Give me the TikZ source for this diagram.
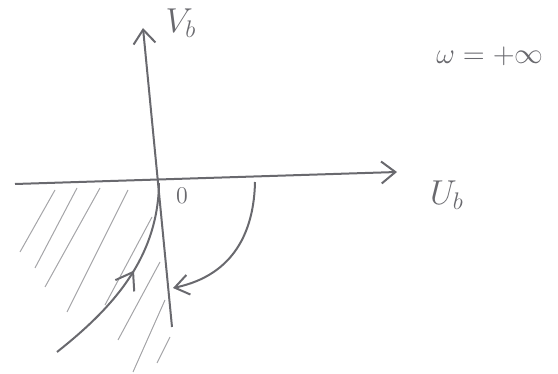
\documentclass[tikz,border=0pt]{standalone}
\usepackage{amsmath}
\definecolor{pencil}{RGB}{105,105,110}
\usetikzlibrary{arrows.meta,decorations.markings}

\begin{document}
\begin{tikzpicture}[x=0.5pt,y=-0.5pt,
  axis/.style={pencil,line width=1pt,-{Straight Barb[length=7pt,width=11pt]}},
  hatch/.style={pencil!60,line width=0.5pt},
  path/.style={pencil,line width=1pt},
  lbl/.style={pencil,inner sep=0pt}]
  \useasboundingbox (0,0) rectangle (558,374);
  % axes
  \coordinate (ul) at (15,184);
  \coordinate (ur) at (397,172);
  \coordinate (vb) at (172,327);
  \coordinate (vt) at (143,28);
  \coordinate (o) at (159,183);
  \draw[axis] (ul) -- (ur);
  \draw[axis] (vb) -- (vt);
  % hatched half-plane
  \foreach \xa/\ya/\xb/\yb in {55/190/20/252, 77/188/35/268, 100/188/45/287,
      128/190/67/312, 152/217/105/305, 160/262/118/340, 165/300/133/372, 170/337/157/363}
    \draw[hatch] (\xa,\ya) -- (\xb,\yb);
  % trajectories
  \coordinate (ins) at (57,352);
  \draw[path,postaction={decorate},decoration={markings,
      mark=at position 0.55 with {\arrow{Straight Barb[length=8pt,width=11pt]}}}]
    (ins) .. controls (110,310) and (158,260) .. (o);
  \coordinate (outs) at (255,182);
  \coordinate (oute) at (173,288);
  \draw[path,-{Straight Barb[length=7pt,width=10pt]}]
    (outs) .. controls (254,230) and (235,275) .. (oute);
  % labels
  \node[lbl,font=\LARGE] (vlab) at (181,23) {$V_b$};
  \node[lbl,font=\LARGE] (ulab) at (447,195) {$U_b$};
  \node[lbl,font=\large] (olab) at (182,196) {$0$};
  \node[lbl,font=\Large] (wlab) at (490,56) {$\omega = +\infty$};
\end{tikzpicture}
\end{document}
